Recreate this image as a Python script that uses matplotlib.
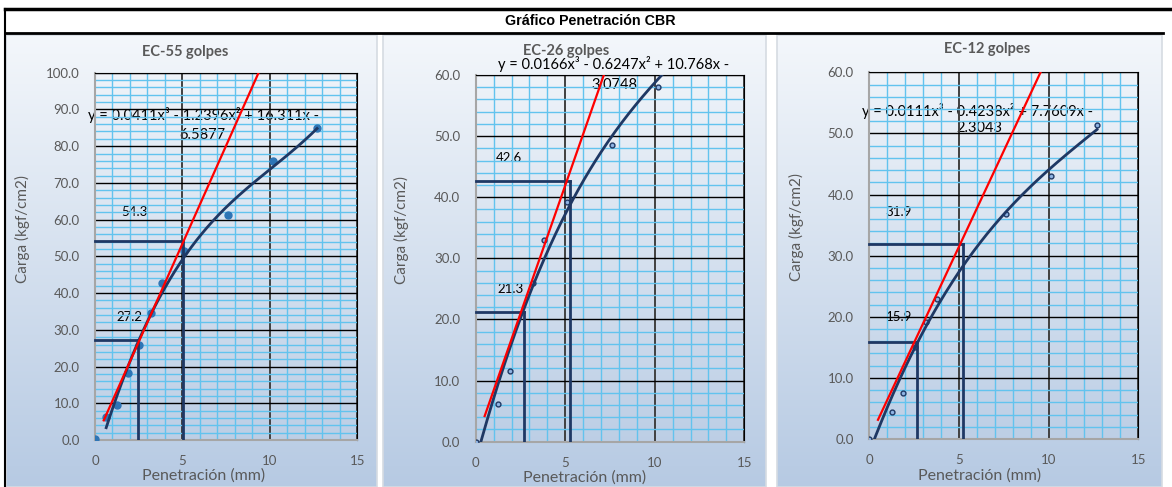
import numpy as np
import matplotlib.pyplot as plt
from matplotlib import font_manager
from matplotlib.patches import Rectangle

plt.rcParams['font.family'] = ['Lato', 'DejaVu Sans']

# datos (penetracion en mm, carga en kgf/cm2)
pen_55 = [0, 0.64, 1.27, 1.91, 2.54, 3.18, 3.81, 5.08, 7.62, 10.16, 12.7]
carga_55 = [0.3, 6.3, 9.6, 18.2, 25.9, 34.7, 42.8, 51.4, 61.3, 75.9, 85.0]

pen_26 = [0, 1.27, 1.91, 3.18, 3.81, 5.08, 7.62, 10.16]
carga_26 = [0.0, 6.2, 11.5, 26.0, 33.0, 39.3, 48.6, 58.0]

pen_12 = [0, 1.27, 1.91, 2.54, 3.18, 3.81, 7.62, 10.16, 12.7]
carga_12 = [0.0, 4.4, 7.5, 15.0, 19.2, 22.9, 36.8, 43.1, 51.4]

# linea de tendencia polinomica (x^3, x^2, x, 1) y su rango en x
coef_55 = [0.0411, -1.2396, 16.311, -6.5877]
coef_26 = [0.0166, -0.6247, 10.768, -3.0748]
coef_12 = [0.0111, -0.4238, 7.7609, -2.3043]
rango_55 = [0.64, 12.7]
rango_26 = [0, 12.7]
rango_12 = [0, 12.7]

# valores CBR leidos a 0.1" y 0.2" y donde estan dibujadas las lineas verticales
cbr_55 = [27.2, 54.3]
cbr_26 = [21.3, 42.6]
cbr_12 = [15.9, 31.9]
vert_55 = [2.45, 5.05]
vert_26 = [2.7, 5.25]
vert_12 = [2.7, 5.25]

ec_55 = "y = 0.0411x³ - 1.2396x² + 16.311x -", "6.5877"
ec_26 = "y = 0.0166x³ - 0.6247x² + 10.768x -", "3.0748"
ec_12 = "y = 0.0111x³ - 0.4238x² + 7.7609x -", "2.3043"

W, H = 1172, 487
gris = '#595959'
navy = '#1f3864'

nombres = {f.name for f in font_manager.fontManager.ttflist}
if 'Liberation Sans Narrow' in nombres:
    fuente_titulo, tam_titulo = 'Liberation Sans Narrow', 11
else:
    fuente_titulo, tam_titulo = 'Liberation Sans', 10.3

fig = plt.figure(figsize=(W / 100, H / 100), dpi=100)
bg = fig.add_axes([0, 0, 1, 1])
bg.set_xlim(0, W)
bg.set_ylim(H, 0)
bg.axis('off')

# fondo degradado de cada panel
t = np.linspace(0, 1, 256)[:, None]
top = np.array([0.955, 0.968, 0.984])
bot = np.array([0.715, 0.792, 0.890])
img = (top + (bot - top) * t)[:, None, :].reshape(256, 1, 3)
for x0, x1 in [(6, 377), (383, 766), (777, 1162)]:
    bg.imshow(img, extent=(x0, x1, H, 35), aspect='auto', zorder=0)
    bg.add_patch(Rectangle((x0, 35), x1 - x0, H - 35, fill=False,
                           ec='#d6dbe2', lw=1.2, zorder=1))

# banda del titulo
bg.plot([5, W], [9, 9], color='black', lw=2.5, zorder=2)
bg.plot([5, 1163], [33, 33], color='black', lw=2, zorder=2)
bg.plot([5, 5], [9, H], color='black', lw=1.5, zorder=2)
bg.text(590, 21, "Gráfico Penetración CBR", ha='center', va='center',
        fontsize=tam_titulo, fontweight='bold', family=fuente_titulo)
bg.set_xlim(0, W)
bg.set_ylim(H, 0)


def rect(x0, x1, ytop, ybot):
    return [x0 / W, 1 - ybot / H, (x1 - x0) / W, (ybot - ytop) / H]


def panel(box, titulo, tpos, ylpos, xlpos, pen, carga, coef, rango, cbr, vert,
          ymax, ec, ecpos, labpos, lleno):
    ax = fig.add_axes(rect(*box))
    ax.patch.set_alpha(0)
    ax.set_xlim(0, 15)
    ax.set_ylim(0, ymax)
    ax.set_xticks([0, 5, 10, 15])
    ax.set_yticks(np.arange(0, ymax + 1, 10))
    ax.set_yticklabels(["%.1f" % v for v in np.arange(0, ymax + 1, 10)])
    ax.set_xticks(np.arange(0, 16, 1), minor=True)
    ax.set_yticks(np.arange(0, ymax + 1, 2), minor=True)
    ax.tick_params(which='both', length=0, colors=gris, labelsize=9.5)
    ax.tick_params(axis='x', pad=11)
    ax.tick_params(axis='y', pad=11)
    ax.grid(which='minor', color='#62c3ee', lw=1, zorder=0)
    ax.grid(which='major', axis='y', color='black', lw=1, zorder=1)
    ax.grid(which='major', axis='x', color='#404040', lw=1.4, zorder=1)
    ax.set_axisbelow(True)
    for s in ['top', 'right']:
        ax.spines[s].set_color('black')
    for s in ['left', 'bottom']:
        ax.spines[s].set_color('#a6a6a6')
        ax.spines[s].set_linewidth(1.5)

    if lleno:
        ax.plot(pen, carga, 'o', ms=5, color='#2e75b6', mec='#2e75b6', zorder=3)
    else:
        ax.plot(pen, carga, 'o', ms=3.5, mfc='#8fb4e3', mec=navy, mew=1, zorder=3)

    xs = np.linspace(rango[0], rango[1], 200)
    ax.plot(xs, np.polyval(coef, xs), color=navy, lw=2, zorder=4)

    m = cbr[1] / 5.08
    xr = np.array([0.5, 15])
    ax.plot(xr, m * xr, color='red', lw=1.6, zorder=6)

    for xv, yv in zip(vert, cbr):
        ax.plot([0, xv], [yv, yv], color=navy, lw=2, zorder=5, clip_on=False)
        ax.plot([xv, xv], [0, yv], color=navy, lw=2, zorder=5)

    bg.text(tpos[0], tpos[1], titulo, ha='center', va='center', fontsize=10.5,
            fontweight='bold', color=gris, zorder=8)
    bg.text(ylpos[0], ylpos[1], "Carga (kgf/cm2)", ha='center', va='center',
            rotation=90, fontsize=11, color=gris)
    bg.text(xlpos[0], xlpos[1], "Penetración (mm)", ha='center', va='center',
            fontsize=11.5, color=gris)
    for txt, p in zip(ec, ecpos):
        bg.text(p[0], p[1], txt, ha='center', va='center', fontsize=10.5,
                color='black', zorder=9)
    for v, p in zip(cbr, labpos):
        bg.text(p[0], p[1], "%.1f" % v, ha='center', va='center', fontsize=9.5,
                color='black', zorder=9)
    return ax


panel((95, 357.3, 72.7, 440), "EC-55 golpes", (185, 52), (22, 229), (204, 476),
      pen_55, carga_55, coef_55, rango_55, cbr_55, vert_55, 100, ec_55,
      [(203, 115), (202, 135)], [(129, 317), (134, 212)], True)
panel((475.7, 744.3, 75, 441.7), "EC-26 golpes", (566, 51), (401, 230), (585, 478),
      pen_26, carga_26, coef_26, rango_26, cbr_26, vert_26, 60, ec_26,
      [(614, 64), (614, 85)], [(511, 289), (509, 158)], False)
panel((869, 1138.3, 72.3, 439), "EC-12 golpes", (987, 49), (796, 227), (980, 476),
      pen_12, carga_12, coef_12, rango_12, cbr_12, vert_12, 60, ec_12,
      [(978, 111), (979, 128)], [(899, 317), (899, 212)], False)

fig.savefig('out.png', dpi=100)
